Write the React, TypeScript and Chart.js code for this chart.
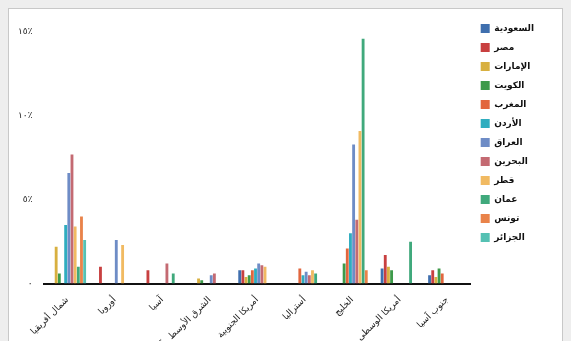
import React, { useEffect, useRef } from "react";
import { Chart, registerables } from "chart.js";

Chart.register(...registerables);

const categories = [
  "شمال أفريقيا",
  "أوروبا",
  "آسيا",
  "الشرق الأوسط وآسيا",
  "أمريكا الجنوبية",
  "أستراليا",
  "الخليج",
  "أمريكا الوسطى",
  "جنوب آسيا",
];

const seriesNames = [
  "السعودية",
  "مصر",
  "الإمارات",
  "الكويت",
  "المغرب",
  "الأردن",
  "العراق",
  "البحرين",
  "قطر",
  "عمان",
  "تونس",
  "الجزائر",
];

const seriesColors = [
  "#3f6fae",
  "#c84040",
  "#d8b040",
  "#3e9a4a",
  "#e2663e",
  "#2fadbf",
  "#6e8cc6",
  "#c46a72",
  "#f1ba62",
  "#40a97c",
  "#e9834a",
  "#55c1b3",
];

const s0 = [0, 0, 0, 0, 0.8, 0, 0, 0.9, 0.5];
const s1 = [0, 1.0, 0.8, 0, 0.8, 0, 0, 1.7, 0.8];
const s2 = [2.2, 0, 0, 0.3, 0.4, 0, 0, 1.0, 0.4];
const s3 = [0.6, 0, 0, 0.2, 0.5, 0, 1.2, 0.8, 0.9];
const s4 = [0, 0, 0, 0, 0.8, 0.9, 2.1, 0, 0.6];
const s5 = [3.5, 0, 0, 0, 0.9, 0.5, 3.0, 0, 0];
const s6 = [6.6, 2.6, 0, 0.5, 1.2, 0.7, 8.3, 0, 0];
const s7 = [7.7, 0, 1.2, 0.6, 1.1, 0.5, 3.8, 0, 0];
const s8 = [3.4, 2.3, 0, 0, 1.0, 0.8, 9.1, 0, 0];
const s9 = [1.0, 0, 0.6, 0, 0, 0.6, 14.6, 2.5, 0];
const s10 = [4.0, 0, 0, 0, 0, 0, 0.8, 0, 0];
const s11 = [2.6, 0, 0, 0, 0, 0, 0, 0, 0];

const seriesValues = [s0, s1, s2, s3, s4, s5, s6, s7, s8, s9, s10, s11];

const yTickValues = [0, 5, 10, 15];
const yTickLabels = ["٠", "٥٪", "١٠٪", "١٥٪"];

const FONT = "'DejaVu Sans', sans-serif";

const legendShift = {
  id: "legendShift",
  afterLayout(chart: any) {
    const lg = chart.legend;
    if (lg) {
      lg.top -= 18;
      lg.bottom -= 18;
    }
  },
};

export default function App() {
  const ref = useRef<HTMLCanvasElement | null>(null);

  useEffect(() => {
    document.body.style.background = "#eeeeee";
    const canvas = ref.current;
    if (!canvas) return;
    const chart = new Chart(canvas, {
      type: "bar",
      data: {
        labels: categories,
        datasets: seriesValues.map((vals, i) => ({
          label: seriesNames[i],
          data: vals,
          backgroundColor: seriesColors[i],
          borderWidth: 0,
        })),
      },
      plugins: [legendShift],
      options: {
        animation: false,
        responsive: true,
        maintainAspectRatio: false,
        layout: { padding: { top: 23, right: 18, left: 6, bottom: 0 } },
        datasets: { bar: { categoryPercentage: 0.8, barPercentage: 0.9 } },
        plugins: {
          tooltip: { enabled: false },
          legend: {
            position: "right",
            align: "start",
            labels: {
              boxWidth: 9,
              boxHeight: 9,
              padding: 10,
              color: "#111",
              font: { family: FONT, size: 9, weight: "bold" },
            },
          },
        },
        scales: {
          x: {
            grid: { display: false },
            border: { display: true, color: "#111", width: 2 },
            ticks: {
              color: "#222",
              font: { family: FONT, size: 9 },
              maxRotation: 45,
              minRotation: 45,
              autoSkip: false,
            },
          },
          y: {
            min: 0,
            max: 15,
            grid: { display: false },
            border: { display: false },
            afterBuildTicks: (axis: any) => {
              axis.ticks = yTickValues.map((v) => ({ value: v }));
            },
            ticks: {
              color: "#222",
              font: { family: FONT, size: 9 },
              callback: (v: any) => {
                const idx = yTickValues.indexOf(Number(v));
                return idx >= 0 ? yTickLabels[idx] : "";
              },
            },
          },
        },
      },
    });
    return () => chart.destroy();
  }, []);

  return (
    <div
      style={{
        border: "1px solid #c8c8c8",
        background: "#ffffff",
        height: 352,
        position: "relative",
      }}
    >
      <canvas ref={ref} />
    </div>
  );
}
